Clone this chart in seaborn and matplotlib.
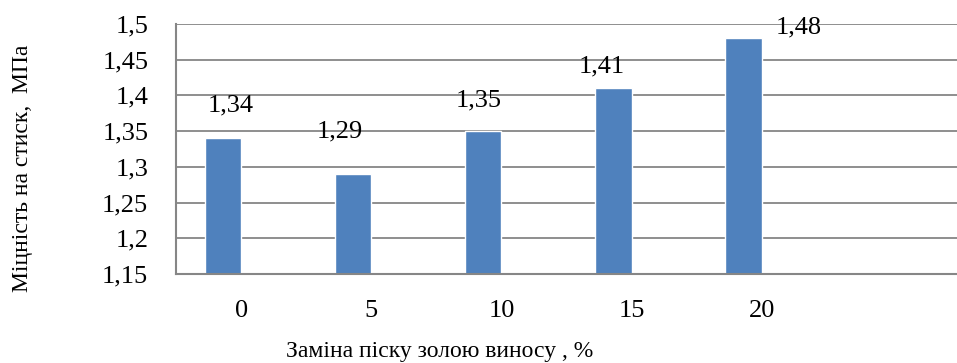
import matplotlib
matplotlib.use("Agg")
import matplotlib.pyplot as plt
import matplotlib.ticker as mticker
import pandas as pd
import seaborn as sns

sns.set_style("white")
plt.rcParams["font.family"] = ["Liberation Serif", "DejaVu Serif"]
plt.rcParams["text.color"] = "black"
plt.rcParams["xtick.labelcolor"] = "black"
plt.rcParams["ytick.labelcolor"] = "black"

# data
categories = ["0", "5", "10", "15", "20"]
strength = [1.34, 1.29, 1.35, 1.41, 1.48]
labels = ["1,34", "1,29", "1,35", "1,41", "1,48"]
y_ticks = [1.15, 1.2, 1.25, 1.3, 1.35, 1.4, 1.45, 1.5]

# label offsets from bar top (pixels), as placed in the original
label_offsets = [(8, 33), (-13, 43), (-5, 31), (-12, 22), (55, 11)]

df = pd.DataFrame({"cat": categories, "val": strength, "series": "s1"})

GRID = "#868686"
BAR = "#4F81BD"

fig = plt.figure(figsize=(9.57, 3.63), dpi=100)
ax = fig.add_axes([176 / 957, 89 / 363, 781 / 957, 250 / 363])

# second (empty) series keeps the bars shifted to the left half of each slot
sns.barplot(data=df, x="cat", y="val", hue="series", order=categories,
            hue_order=["s1", "s2"], palette={"s1": BAR, "s2": BAR},
            width=0.56, dodge=True, legend=False, ax=ax, saturation=1)

ax.set_ylim(1.15, 1.5)
ax.set_xlim(-0.5, -0.5 + 781 / 131.5)
ax.set_yticks(y_ticks)
ax.yaxis.set_major_formatter(mticker.FuncFormatter(
    lambda v, p: f"{v:.2f}".rstrip("0").rstrip(".").replace(".", ",")))
ax.yaxis.grid(True, color=GRID, lw=1.3)
ax.set_axisbelow(True)

ax.set_xticks(range(len(categories)))
ax.set_xticklabels(categories)
ax.set_xticks([i - 0.5 for i in range(len(categories) + 2)], minor=True)
ax.tick_params(axis="x", which="major", length=0, pad=19, labelsize=19)
ax.tick_params(axis="x", which="minor", length=7, color=GRID, width=1.5, direction="out")
ax.tick_params(axis="y", length=7, color=GRID, width=1.5, direction="out", pad=13, labelsize=19)

for side in ["top", "right"]:
    ax.spines[side].set_visible(False)
for side in ["left", "bottom"]:
    ax.spines[side].set_color(GRID)
    ax.spines[side].set_linewidth(1.5)

bars = [p for p in ax.patches if p.get_height() == p.get_height() and p.get_height() > 0]
bars = sorted(bars, key=lambda p: p.get_x())
for bar, text, (dx, dy) in zip(bars, labels, label_offsets):
    ax.annotate(text, xy=(bar.get_x() + bar.get_width() / 2, bar.get_height()),
                xytext=(dx, dy), textcoords="offset pixels",
                ha="center", va="center", fontsize=19, annotation_clip=False)

ax.set_xlabel("")
ax.set_ylabel("")
fig.text(440 / 957, 1 - 351 / 363, "Заміна піску золою виносу , %",
         ha="center", va="center", fontsize=17)
fig.text(23 / 957, 1 - 168 / 363, "Міцність на стиск,  МПа",
         ha="center", va="center", rotation=90, fontsize=17)

fig.savefig("out.png", dpi=100)
